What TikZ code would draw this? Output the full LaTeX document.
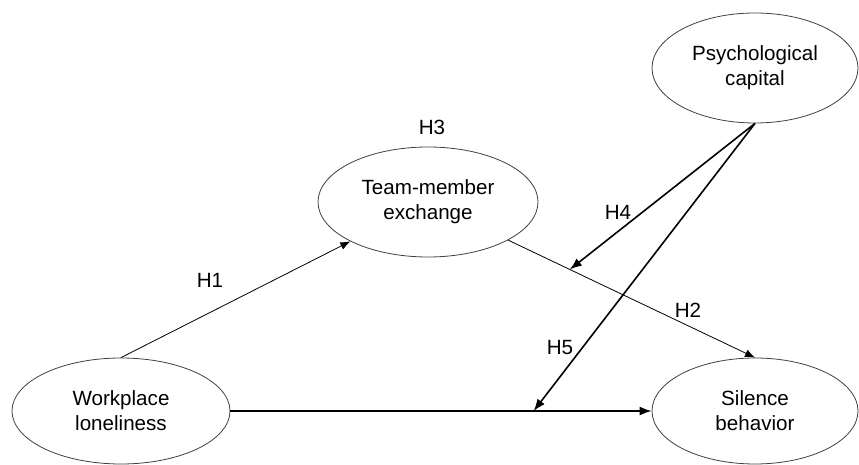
\documentclass[tikz,border=0pt]{standalone}
\usepackage{fontspec}
\setmainfont{Liberation Sans}
\usetikzlibrary{arrows.meta,shapes.geometric}

\begin{document}
\begin{tikzpicture}[x=1pt,y=1pt,
    construct/.style={ellipse,draw=black!75,line width=0.8pt,inner sep=0pt,
      align=center,font=\fontsize{20.6}{25}\selectfont},
    hyp/.style={font=\fontsize{20.6}{24}\selectfont},
    effect/.style={line width=0.8pt,-{Latex[length=10pt,width=8pt]}},
    moderation/.style={line width=1.6pt,-{Latex[length=12pt,width=9pt]}}]
      \useasboundingbox (0,0) rectangle (859,464);

      \node[construct,minimum width=218pt,minimum height=106pt] (wl) at (121,53) {Workplace\\loneliness};
      \node[construct,minimum width=220pt,minimum height=110pt] (tmx) at (428,262) {Team-member\\exchange};
      \node[construct,minimum width=206pt,minimum height=110pt] (pc) at (755,396) {Psychological\\capital};
      \node[construct,minimum width=206pt,minimum height=106pt] (sil) at (755,53) {Silence\\behavior};

      \draw[effect] (wl.north) -- (tmx);
      \draw[effect] (tmx) -- (sil.north) coordinate[pos=0.25] (h4end);
      \draw[moderation] (wl) -- (sil) coordinate[pos=0.72] (h5end);
      \draw[moderation] (pc.south) -- (h4end);
      \draw[moderation] (pc.south) -- (h5end);

      \node[hyp] (h1) at (210,184) {H1};
      \node[hyp] (h2) at (688,154) {H2};
      \node[hyp] (h3) at (432,337) {H3};
      \node[hyp] (h4) at (618,252) {H4};
      \node[hyp] (h5) at (560,116) {H5};
    \end{tikzpicture}
\end{document}
